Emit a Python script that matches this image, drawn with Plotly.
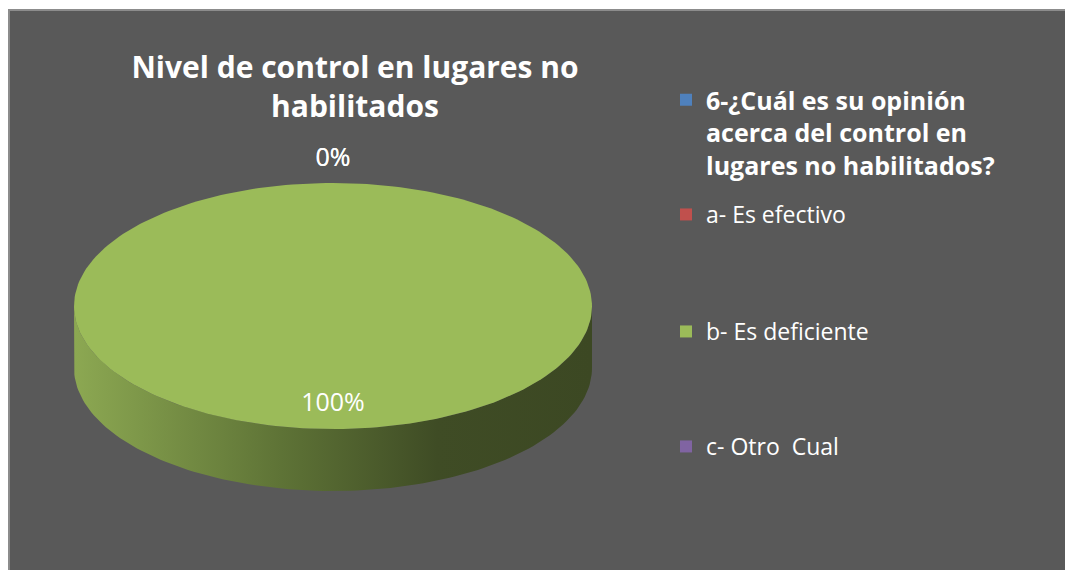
import numpy as np
import plotly.graph_objects as go

# datos del grafico
labels = ["6-¿Cuál es su opinión<br>acerca del control en<br>lugares no habilitados?",
          "a- Es efectivo", "b- Es deficiente", "c- Otro  Cual"]
values = [None, 0, 100, 0]
colors = ["#4F81BD", "#C0504D", "#9BBB59", "#8064A2"]
title_text = "Nivel de control en lugares no<br>habilitados"

W, H = 1073, 570
OFF = 8  # margen del body de la pagina
CX, CY, RX, RY, DEPTH = 333, 306, 259, 123, 62
SIDE_SCALE = [[0, "#8CA852"], [0.4, "#5E7336"], [0.7, "#3F4C25"], [1, "#3C4823"]]


def px(x):
    return (x - OFF) / W


def py(y):
    return 1 - (y - OFF) / H


def pt(theta, dy=0):
    # angulo en grados, desde las 12 en sentido horario (como Excel)
    t = np.radians(theta)
    return CX + RX * np.sin(t), CY - RY * np.cos(t) + dy


fig = go.Figure()

vals = [v or 0 for v in values]
total = sum(vals)
start = 0.0
slices = []
for v, col, raw in zip(vals, colors, values):
    span = 360.0 * v / total
    slices.append((start, start + span, v, col, raw))
    start += span

# caras laterales (parte delantera)
for a0, a1, v, col, raw in slices:
    lo, hi = max(a0, 90), min(a1, 270)
    if v <= 0 or hi <= lo:
        continue
    th = np.linspace(lo, hi, 120)
    xt, yt = pt(th)
    xb, yb = pt(th[::-1], DEPTH)
    fig.add_trace(go.Scatter(
        x=np.concatenate([xt, xb]), y=np.concatenate([yt, yb]),
        fill="toself", mode="lines", line=dict(width=0),
        fillgradient=dict(type="horizontal", colorscale=SIDE_SCALE),
        showlegend=False, hoverinfo="skip"))

# caras superiores
for a0, a1, v, col, raw in slices:
    if v <= 0:
        continue
    th = np.linspace(a0, a1, 240)
    xs, ys = pt(th)
    if a1 - a0 < 360:
        xs = np.concatenate([[CX], xs, [CX]])
        ys = np.concatenate([[CY], ys, [CY]])
    fig.add_trace(go.Scatter(x=xs, y=ys, fill="toself", mode="lines",
                             line=dict(width=0), fillcolor=col,
                             showlegend=False, hoverinfo="skip"))

# etiquetas de porcentaje
for a0, a1, v, col, raw in slices:
    if raw is None:
        continue
    mid = (a0 + a1) / 2
    if v > 0:
        t = np.radians(mid)
        lx, ly = CX + 0.8 * RX * np.sin(t), CY - 0.8 * RY * np.cos(t)
    else:
        lx, ly = pt(mid, -23)
    fig.add_trace(go.Scatter(x=[lx], y=[ly], mode="text",
                             text=[f"{round(100 * v / total)}%"],
                             textfont=dict(color="white", size=25, family="Open Sans"),
                             showlegend=False, hoverinfo="skip"))

# leyenda (una por entrada para respetar la separacion)
legend_tops = [77, 193, 310, 425]
for i, (lab, col) in enumerate(zip(labels, colors)):
    key = "legend" if i == 0 else f"legend{i + 1}"
    name = f"<b>{lab}</b>" if i == 0 else lab
    fig.add_trace(go.Scatter(x=[None], y=[None], mode="markers", name=name,
                             marker=dict(symbol="square", size=12, color=col),
                             legend=key))
    fig.update_layout({key: dict(
        x=px(666), y=py(legend_tops[i]), xanchor="left", yanchor="top",
        bgcolor="rgba(0,0,0,0)", itemwidth=30, valign="top",
        font=dict(color="white", size=25 if i == 0 else 23, family="Open Sans"))})

fig.update_layout(
    width=W, height=H,
    margin=dict(l=0, r=0, t=0, b=0),
    paper_bgcolor="white", plot_bgcolor="rgba(0,0,0,0)",
    title=dict(text=f"<b>{title_text}</b>", x=px(355), xanchor="center",
               y=py(78), yanchor="top",
               font=dict(color="white", size=30, family="Open Sans")),
    xaxis=dict(range=[OFF, W + OFF], visible=False, fixedrange=True),
    yaxis=dict(range=[H + OFF, OFF], visible=False, fixedrange=True),
    shapes=[dict(type="rect", xref="paper", yref="paper", layer="below",
                 x0=px(9), x1=1.01, y0=-0.01, y1=py(10),
                 fillcolor="#595959", line=dict(color="#8C8C8C", width=2))],
)

fig.write_html("out.html")
